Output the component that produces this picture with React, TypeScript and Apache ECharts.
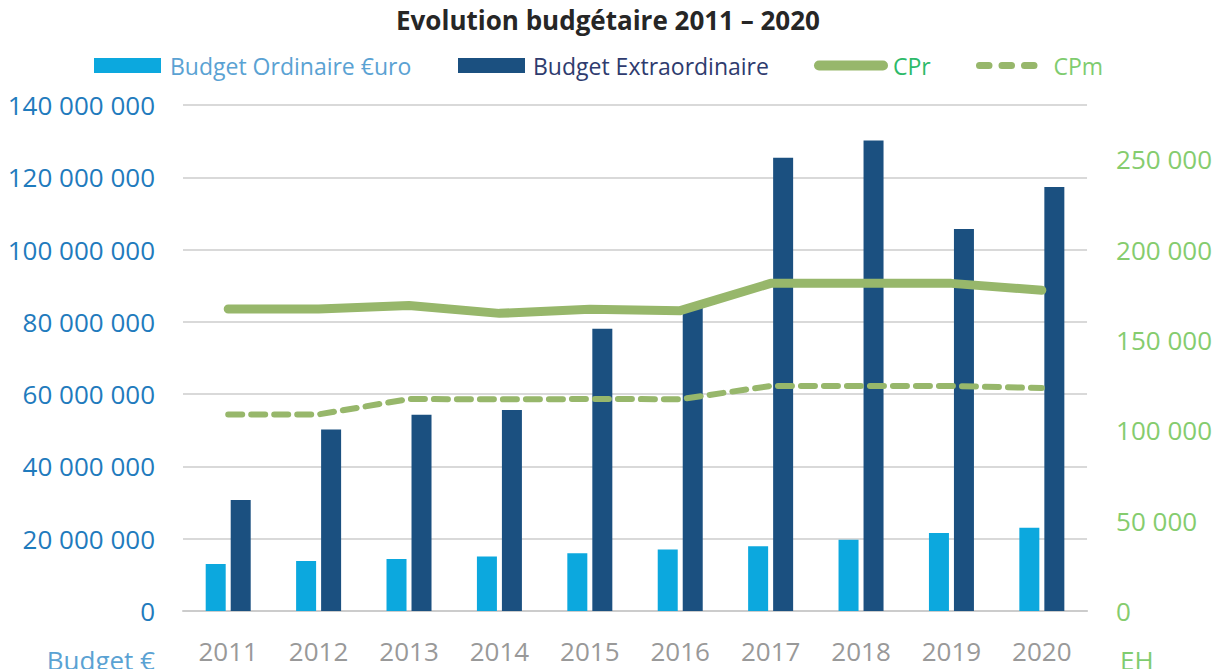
import React, { useEffect, useRef } from "react";
import * as echarts from "echarts";

const years = ["2011", "2012", "2013", "2014", "2015", "2016", "2017", "2018", "2019", "2020"];
const budgetOrdinaire = [13.0e6, 13.8e6, 14.4e6, 15.1e6, 16.0e6, 17.0e6, 17.9e6, 19.7e6, 21.6e6, 23.0e6];
const budgetExtra = [30.7e6, 50.2e6, 54.3e6, 55.6e6, 78.1e6, 84.0e6, 125.4e6, 130.2e6, 105.7e6, 117.3e6];
const cpr = [167100, 167100, 169000, 164700, 167000, 166200, 181300, 181300, 181300, 177500];
const cpm = [108800, 108800, 117300, 117100, 117300, 117200, 124500, 124500, 124500, 123400];

const seriesNames = ["Budget Ordinaire €uro", "Budget Extraordinaire", "CPr", "CPm"];
const titleText = "Evolution budgétaire 2011 – 2020";
const leftAxisName = "Budget €";
const rightAxisName = "EH";

const FONT = "'Open Sans', sans-serif";
const fmt = (v: number) => String(v).replace(/\B(?=(\d{3})+(?!\d))/g, " ");

// legend icons for the two line series (capsule line / three rounded dashes)
const solidIcon = "path://M5,0 H69 A5,5 0 0 1 69,10 H5 A5,5 0 0 1 5,0 Z";
const cap = (x: number) => `M${x + 3.5},0 H${x + 13} A3.5,3.5 0 0 1 ${x + 13},7 H${x + 3.5} A3.5,3.5 0 0 1 ${x + 3.5},0 Z`;
const dashIcon = "path://" + cap(0) + " " + cap(22.5) + " " + cap(45);

export default function App() {
  const ref = useRef<HTMLDivElement>(null);
  useEffect(() => {
    if (!ref.current) return;
    const chart = echarts.init(ref.current, null, { renderer: "svg" });
    const legendBase = {
      top: 54,
      padding: 0,
      itemHeight: 15,
      textStyle: { fontSize: 23, fontFamily: FONT },
    };
    chart.setOption({
      animation: false,
      textStyle: { fontFamily: FONT },
      title: {
        text: titleText,
        left: 396,
        top: 7,
        padding: 0,
        textStyle: { fontSize: 26, fontWeight: "bold", color: "#262626", fontFamily: FONT },
      },
      legend: [
        { ...legendBase, left: 94, itemWidth: 67, icon: "rect", data: [{ name: seriesNames[0], textStyle: { color: "#5aa2d3", padding: [0, 0, 0, 4] } }] },
        { ...legendBase, left: 458, itemWidth: 67, icon: "rect", data: [{ name: seriesNames[1], textStyle: { color: "#2e3b6e", padding: [0, 0, 0, 3] } }] },
        { ...legendBase, left: 814, itemWidth: 74, itemHeight: 10, data: [{ name: seriesNames[2], icon: solidIcon, textStyle: { color: "#2dba6a" } }] },
        { ...legendBase, left: 976, itemWidth: 61.5, itemHeight: 7, data: [{ name: seriesNames[3], icon: dashIcon, textStyle: { color: "#7fcc6f", padding: [0, 0, 0, 11] } }] },
      ],
      grid: { left: 183, right: 126, top: 105, bottom: 58 },
      xAxis: {
        type: "category",
        data: years,
        axisLine: { lineStyle: { color: "#cccccc", width: 2 } },
        axisTick: { show: false },
        axisLabel: { color: "#999999", fontSize: 26, margin: 27, fontFamily: FONT },
      },
      yAxis: [
        {
          type: "value",
          min: 0,
          max: 140000000,
          interval: 20000000,
          axisLine: { show: false },
          axisTick: { show: false },
          splitLine: { lineStyle: { color: "#d9d9d9", width: 2 } },
          axisLabel: { color: "#1f7bbd", fontSize: 26, margin: 28, formatter: fmt, fontFamily: FONT },
        },
        {
          type: "value",
          min: 0,
          max: 280000,
          interval: 50000,
          axisLine: { show: false },
          axisTick: { show: false },
          splitLine: { show: false },
          axisLabel: { color: "#85cc6e", fontSize: 26, margin: 29, formatter: fmt, showMaxLabel: false, fontFamily: FONT },
        },
      ],
      graphic: [
        { type: "text", right: 1215 - 155, top: 647, style: { text: leftAxisName, fill: "#5aa2d3", font: `26px ${FONT}`, textAlign: "right" } },
        { type: "text", left: 1120, top: 647, style: { text: rightAxisName, fill: "#7fcc6f", font: `26px ${FONT}` } },
      ],
      series: [
        {
          name: seriesNames[0],
          type: "bar",
          data: budgetOrdinaire,
          barWidth: 20,
          barGap: "25%",
          itemStyle: { color: "#0ca8de" },
        },
        {
          name: seriesNames[1],
          type: "bar",
          data: budgetExtra,
          barWidth: 20,
          itemStyle: { color: "#1b5080" },
        },
        {
          name: seriesNames[2],
          type: "line",
          yAxisIndex: 1,
          data: cpr,
          symbol: "none",
          lineStyle: { color: "#97b76b", width: 9, cap: "round", join: "round" },
          itemStyle: { color: "#97b76b", borderWidth: 0 },
        },
        {
          name: seriesNames[3],
          type: "line",
          yAxisIndex: 1,
          data: cpm,
          symbol: "none",
          lineStyle: { color: "#97b76b", width: 6, type: [14, 9], cap: "round" },
          itemStyle: { color: "#97b76b", borderWidth: 0 },
        },
      ],
    });
    return () => chart.dispose();
  }, []);
  return <div ref={ref} style={{ position: "absolute", left: 0, top: 0, width: 1215, height: 669 }} />;
}
